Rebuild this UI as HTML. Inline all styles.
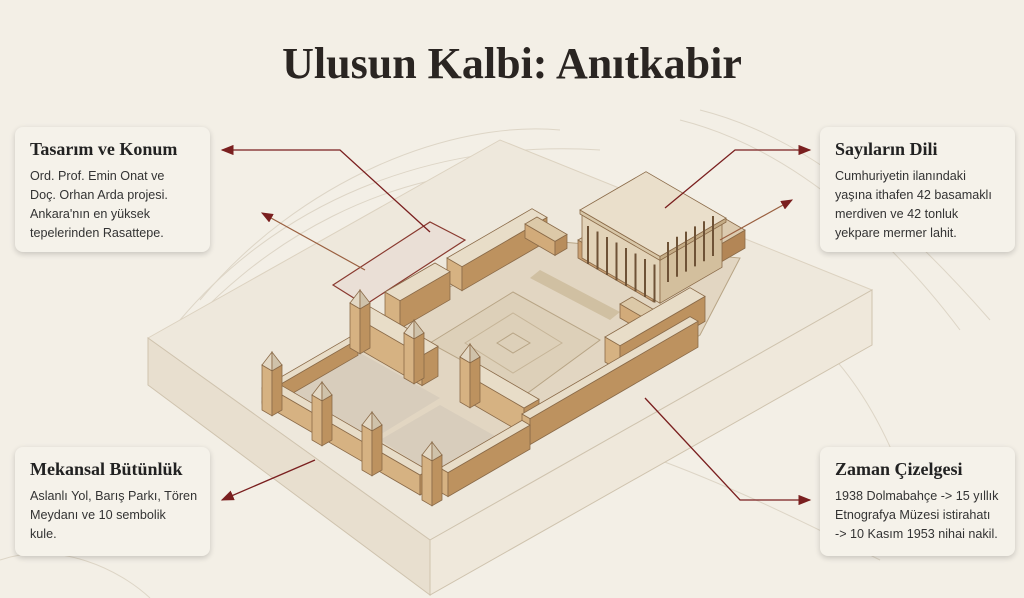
<!DOCTYPE html>
<html><head><meta charset="utf-8"><style>
body{margin:0;width:1024px;height:598px;background:#f3efe6;overflow:hidden;position:relative;font-family:"Liberation Sans",sans-serif}
h1{position:absolute;top:38px;left:0;width:1024px;text-align:center;margin:0;font-family:"Liberation Serif",serif;font-size:44px;font-weight:bold;color:#2a2522}
.card{position:absolute;background:#f5f2ea;border-radius:8px;box-shadow:0 2px 6px rgba(0,0,0,.18);padding:12px 6px 12px 15px;box-sizing:border-box;width:195px}
.card h2{margin:0 0 7px;font-family:"Liberation Serif",serif;font-size:18px;font-weight:bold;color:#222}
.card p{margin:0;font-size:12.6px;line-height:19px;color:#333;white-space:nowrap}
svg{position:absolute;left:0;top:0}
</style></head><body>
<svg id="s" width="1024" height="598">
<defs><marker id="a" markerWidth="10" markerHeight="8" refX="9" refY="4" orient="auto"><path d="M0,0L10,4L0,8z" fill="#7a1f1f"/></marker></defs>
<g fill="none" stroke="#ddd5c6" stroke-width="1">
<path d="M200,300 C300,180 450,120 560,130"/><path d="M180,320 C290,190 450,140 600,150"/><path d="M160,360 C260,230 400,170 520,170"/>
<path d="M680,120 C800,150 900,250 960,330"/><path d="M700,110 C820,140 920,240 990,320"/><path d="M760,300 C840,340 880,420 900,470"/>
<path d="M600,440 C700,470 800,520 880,560"/><path d="M0,560 C60,540 120,570 150,598"/>
</g>
<polygon points="148,338 500,140 872,290 430,540" fill="#eee8dc" stroke="#dcd2c0"/>
<polygon points="148,338 430,540 430,595 148,385" fill="#e8dfcf" stroke="#cfc3ae"/>
<polygon points="430,540 872,290 872,345 430,595" fill="#efe8db" stroke="#cfc3ae"/>
<polygon points="333,285 430,222 465,240 365,305" fill="#eadfd6" stroke="#8a3a30" stroke-width="1.2"/>
<polygon points="262,402 440,292 540,240 740,258 700,335 530,440 440,495" fill="#e2d6c2" stroke="#b8a586"/>
<polygon points="270,402 355,350 440,398 355,450" fill="#d8cdbc"/>
<polygon points="380,440 440,405 520,450 455,488" fill="#d8cdbc"/>
<polygon points="430,343 513,292 600,340 525,395" fill="#ddd0b9" stroke="#b8a586"/>
<polygon points="497,343 513,333 530,343 513,353" fill="none" stroke="#b8a586"/>
<polygon points="465,343 513,313 562,343 513,373" fill="none" stroke="#c6b598"/>
<polygon points="530,278 610,320 620,312 540,270" fill="#d0c0a2"/>
<g id="boxes"></g>
<g stroke="#7a1f1f" stroke-width="1.3" fill="none" marker-end="url(#a)">
<path d="M430,232 L340,150 L222,150"/>
<path d="M665,208 L735,150 L810,150"/>
<path d="M315,460 L222,500"/>
<path d="M645,398 L740,500 L810,500"/>
</g>
<g stroke="#9a6040" stroke-width="1.2" fill="none" marker-end="url(#a)">
<path d="M365,270 L262,213"/><path d="M720,240 L792,200"/>
</g>
</svg>
<script>
var g=document.getElementById('boxes'),NS='http://www.w3.org/2000/svg',k=0.58;
function poly(pts,f,s){var p=document.createElementNS(NS,'polygon');p.setAttribute('points',pts.map(function(q){return q[0].toFixed(1)+','+q[1].toFixed(1)}).join(' '));p.setAttribute('fill',f);p.setAttribute('stroke',s||'#8a6a48');p.setAttribute('stroke-width','0.8');g.appendChild(p);}
function box(x,y,a,b,h,c1,c2,c3){var O=[x,y],A=[x+a,y+a*k],AB=[x+a+b,y+a*k-b*k],B=[x+b,y-b*k];
function up(p){return [p[0],p[1]-h]}
poly([O,A,up(A),up(O)],c1||'#d6b282');poly([A,AB,up(AB),up(A)],c2||'#bd925f');poly([up(O),up(A),up(AB),up(B)],c3||'#e8ddc8');}
function tower(x,y){box(x-10,y,10,10,45);var t=[x-10,y-45],l=[x,y-45+5.8],r=[x+10,y-45],ap=[x,y-58];
poly([t,l,ap],'#e3d8c4');poly([l,r,ap],'#cfc2aa');}
box(578,258,75,92,18,'#c9a073','#b38656','#dccbb0');
box(582,258,78,62,45,'#e2d3b8','#d3bf9d','#e8dcc6');
box(580,214,80,66,4,'#d8c7a8','#c4ac86','#eadfcb');
var cols=document.createElementNS(NS,'path');var d='';
for(var i=0;i<8;i++){var x=588+i*9.5;d+='M'+x+','+(226+i*5.5)+'v38';}
for(var j=0;j<6;j++){var x2=668+j*9;d+='M'+x2+','+(242-j*5.2)+'v40';}
cols.setAttribute('d',d);cols.setAttribute('stroke','#6e5236');cols.setAttribute('stroke-width','2');g.appendChild(cols);
box(447,282,15,85,24);
box(525,238,30,12,14,'#d2ab7a','#b88d5c','#dcc9a8');
box(620,318,25,12,14,'#d2ab7a','#b88d5c','#dcc9a8');
box(605,362,15,85,25);
box(262,404,6,90,16);
box(270,408,150,8,20);
box(385,320,15,50,28);
box(352,345,70,16,30);
box(462,398,62,15,26);
box(522,440,8,168,26);
box(440,492,8,82,24);
tower(272,410);tower(322,440);tower(372,470);tower(432,500);tower(470,402);tower(414,378);tower(360,348);
</script>
<h1>Ulusun Kalbi: Anıtkabir</h1>
<div class="card" style="left:15px;top:127px;height:125px"><h2>Tasarım ve Konum</h2><p>Ord. Prof. Emin Onat ve<br>Doç. Orhan Arda projesi.<br>Ankara'nın en yüksek<br>tepelerinden Rasattepe.</p></div>
<div class="card" style="left:820px;top:127px;height:125px"><h2>Sayıların Dili</h2><p>Cumhuriyetin ilanındaki<br>yaşına ithafen 42 basamaklı<br>merdiven ve 42 tonluk<br>yekpare mermer lahit.</p></div>
<div class="card" style="left:15px;top:447px;height:109px"><h2>Mekansal Bütünlük</h2><p>Aslanlı Yol, Barış Parkı, Tören<br>Meydanı ve 10 sembolik<br>kule.</p></div>
<div class="card" style="left:820px;top:447px;height:109px"><h2>Zaman Çizelgesi</h2><p>1938 Dolmabahçe -&gt; 15 yıllık<br>Etnografya Müzesi istirahatı<br>-&gt; 10 Kasım 1953 nihai nakil.</p></div>
</body></html>
